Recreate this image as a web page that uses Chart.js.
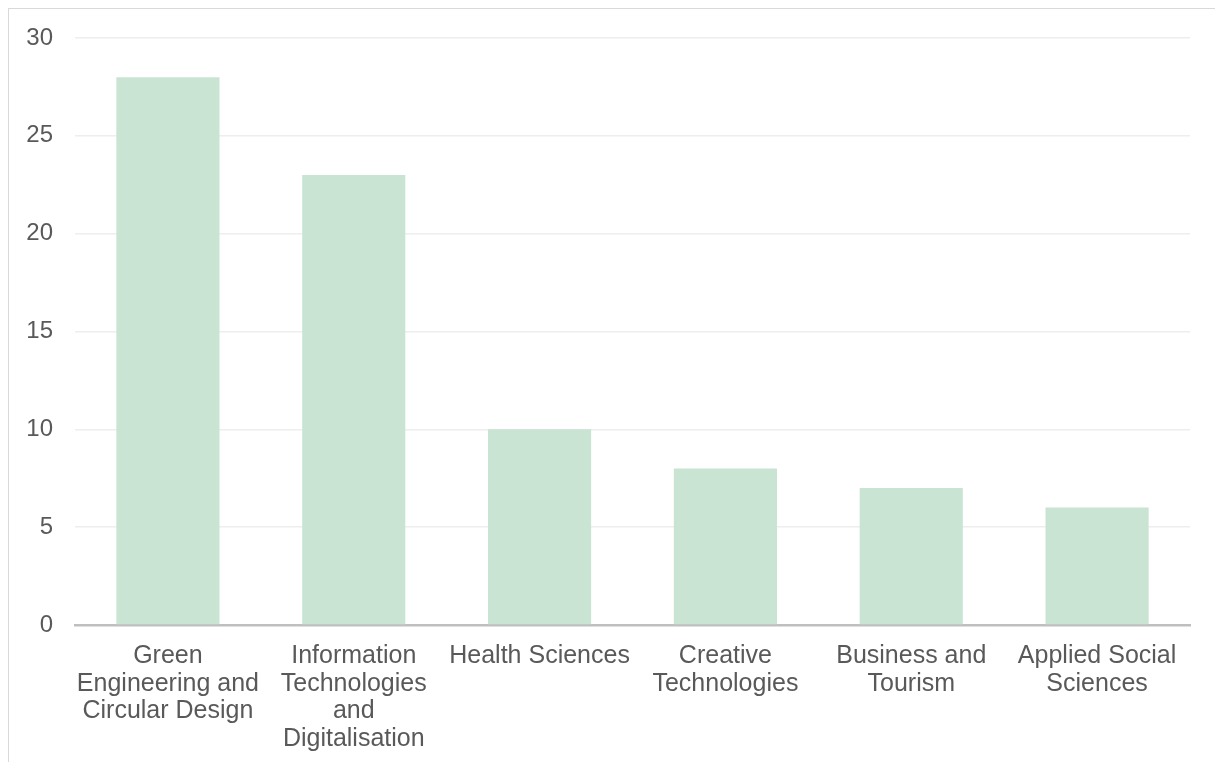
<!DOCTYPE html>
<html>
<head>
<meta charset="utf-8">
<title>Programmes by field</title>
<script src="https://cdn.jsdelivr.net/npm/chart.js@4.4.1/dist/chart.umd.min.js"></script>
<style>
    html, body { margin: 0; padding: 0; background: #fff; overflow: hidden; }
    #frame {
        position: absolute; left: 8px; top: 8px;
        width: 1230px; height: 780px;
        border: 1.5px solid #d9d9d9;
        box-sizing: border-box;
    }
    #wrap { position: absolute; left: 0; top: 0; width: 1215px; height: 762px; }
</style>
</head>
<body>
<div id="frame"></div>
<div id="wrap"><canvas id="fieldChart"></canvas></div>
<script>
// categories and counts
const fields = [
    ['Green', 'Engineering and', 'Circular Design'],
    ['Information', 'Technologies', 'and', 'Digitalisation'],
    'Health Sciences',
    ['Creative', 'Technologies'],
    ['Business and', 'Tourism'],
    ['Applied Social', 'Sciences']
];
const counts = [28, 23, 10, 8, 7, 6];
const yTicks = [0, 5, 10, 15, 20, 25, 30];

const textColor = '#595959';
const fontFamily = '"Liberation Sans", Arial, sans-serif';

document.addEventListener('DOMContentLoaded', () => {
    const ctx = document.getElementById('fieldChart').getContext('2d');
    new Chart(ctx, {
        type: 'bar',
        data: {
            labels: fields,
            datasets: [{
                data: counts,
                backgroundColor: '#c9e4d3',
                borderWidth: 0,
                barPercentage: 1,
                categoryPercentage: 0.555
            }]
        },
        options: {
            responsive: true,
            maintainAspectRatio: false,
            animation: false,
            layout: {
                padding: { left: 0, right: 25, top: 38, bottom: 0 }
            },
            plugins: {
                legend: { display: false },
                tooltip: { enabled: false }
            },
            scales: {
                x: {
                    grid: { display: false },
                    border: { display: true, color: '#bfbfbf', width: 2.5 },
                    ticks: {
                        color: textColor,
                        font: { family: fontFamily, size: 25, lineHeight: 1.11 },
                        padding: 9,
                        maxRotation: 0,
                        autoSkip: false
                    },
                    afterFit: (scale) => { scale.height = 137; }
                },
                y: {
                    min: 0,
                    max: 30,
                    afterBuildTicks: (scale) => {
                        scale.ticks = yTicks.map(v => ({ value: v }));
                    },
                    grid: { color: '#eeeeee', lineWidth: 1.5, drawTicks: false },
                    border: { display: false },
                    ticks: {
                        color: textColor,
                        font: { family: fontFamily, size: 24 },
                        padding: 22
                    },
                    afterFit: (scale) => { scale.width = 75; }
                }
            }
        }
    });
});
</script>
</body>
</html>
